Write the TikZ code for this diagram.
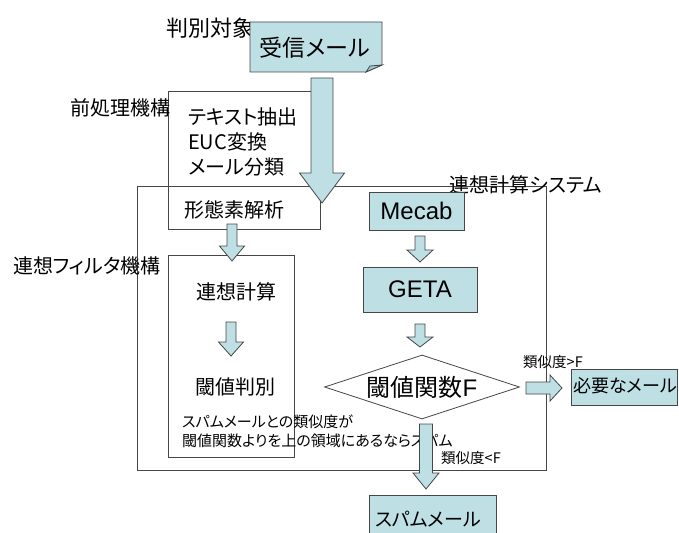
\documentclass[tikz,border=0pt]{standalone}
\usepackage{fontspec}
\setmainfont{Liberation Sans}
\newfontfamily\jp{Noto Sans CJK JP}[RawFeature=+palt]
\usetikzlibrary{shapes.geometric,backgrounds}
\definecolor{lblue}{RGB}{190,224,229}
\definecolor{lblued}{RGB}{160,200,206}
\definecolor{edge}{RGB}{70,70,70}
\tikzset{
  boxline/.style={draw=edge,line width=0.8pt},
  bluebox/.style={boxline,fill=lblue,inner sep=0pt},
  lbl/.style={font=\jp\fontsize{20}{24}\selectfont,inner sep=0pt},
  small/.style={font=\jp\fontsize{15}{19}\selectfont,inner sep=0pt},
  blk/.style={draw=edge,line width=0.8pt,fill=lblue,line join=miter},
}
% vertical block arrow: x, top, head start, tip, shaft half width, head half width
\newcommand\blkdown[6]{%
  \draw[blk] ({#1-#5},#2) -- ({#1+#5},#2) -- ({#1+#5},#3) -- ({#1+#6},#3) -- (#1,#4)
    -- ({#1-#6},#3) -- ({#1-#5},#3) -- cycle;}
% horizontal block arrow: y, left, head start, tip, shaft half, head half
\newcommand\blkright[6]{%
  \draw[blk] (#2,{#1-#5}) -- (#3,{#1-#5}) -- (#3,{#1-#6}) -- (#4,#1) -- (#3,{#1+#6})
    -- (#3,{#1+#5}) -- (#2,{#1+#5}) -- cycle;}
\begin{document}
\begin{tikzpicture}[x=1pt,y=-1pt]
\useasboundingbox (0,0) rectangle (679,532);
% outer system box
\node[boxline,minimum width=409pt,minimum height=284pt,inner sep=0pt] (sys) at (341.5,328) {};
% preprocessing box
\node[boxline,minimum width=152pt,minimum height=138pt,inner sep=0pt] (pre) at (244,160) {};
% inner filter box
\node[boxline,minimum width=126pt,minimum height=202pt,inner sep=0pt] (flt) at (231,356) {};

% labels
\node[lbl,font=\jp\fontsize{22}{26}\selectfont] (lhan) at (210,28) {判別対象};
\node[lbl] (lpre) at (120,108) {前処理機構};
\node[lbl] (lflt) at (87,266) {連想フィルタ機構};
\node[lbl] (lsys) at (526,185) {連想計算システム};

% received mail document shape
\draw[bluebox] (250,22) -- (382,22) -- (382,65) -- (366,72) -- (250,72) -- cycle;
\draw[boxline,fill=lblued] (366,72) -- (370,66) -- (382,65) -- cycle;
\node[font=\jp\fontsize{23}{27}\selectfont,inner sep=0pt] (recv) at (315,48) {受信メール};

% preprocessing text
\node[lbl,anchor=west] (t1) at (188,117) {テキスト抽出};
\node[lbl,anchor=west] (t2) at (188,142) {EUC{\jp 変換}};
\node[lbl,anchor=west] (t3) at (188,167) {メール分類};
\node[lbl] (t4) at (234,210) {形態素解析};

% filter texts
\node[lbl] (f1) at (236,292) {連想計算};
\node[lbl] (f2) at (235,387) {閾値判別};
\node[small,anchor=west,align=left] (note) at (182,431) {スパムメールとの類似度が\\閾値関数よりを上の領域にあるならスパム};

% right column
\node[bluebox,minimum width=95pt,minimum height=38pt,font=\fontsize{24}{28}\selectfont] (mecab) at (416.5,211) {Mecab};
\node[bluebox,minimum width=114pt,minimum height=45pt,font=\fontsize{24}{28}\selectfont] (geta) at (420,289.5) {GETA};
\node[diamond,boxline,minimum width=195pt,minimum height=64pt,aspect=3,inner sep=0pt,fill=white,font=\fontsize{24}{28}\selectfont] (thr) at (422,387) {{\jp 閾値関数}F};
\node[bluebox,minimum width=106pt,minimum height=36pt] (need) at (624,387) {};
\node[lbl,font=\jp\fontsize{18}{22}\selectfont,anchor=west] (needt) at (573,386) {必要なメール};
\node[bluebox,minimum width=127pt,minimum height=50pt,anchor=north] (spam) at (432.5,495) {};
\node[lbl,font=\jp\fontsize{19}{23}\selectfont] (spamt) at (428,519) {スパムメール};
\node[small,font=\jp\fontsize{14.5}{18}\selectfont] (gt) at (553,362) {{\jp 類似度}>F};
\node[small,font=\jp\fontsize{14.5}{18}\selectfont] (lt) at (471,458) {{\jp 類似度}<F};

% block arrows
\blkdown{232}{224}{246}{261}{5}{12.5}
\blkdown{231}{322}{342}{356}{5}{12.5}
\blkdown{420}{236}{250}{262}{5}{13}
\blkdown{420}{324}{337}{347}{5}{13}
\blkdown{426}{424}{473}{489}{6.5}{13}
\blkright{388}{526}{550}{562}{6}{13}
\blkdown{322}{78}{173}{203}{11}{22.5}
\end{tikzpicture}
\end{document}
